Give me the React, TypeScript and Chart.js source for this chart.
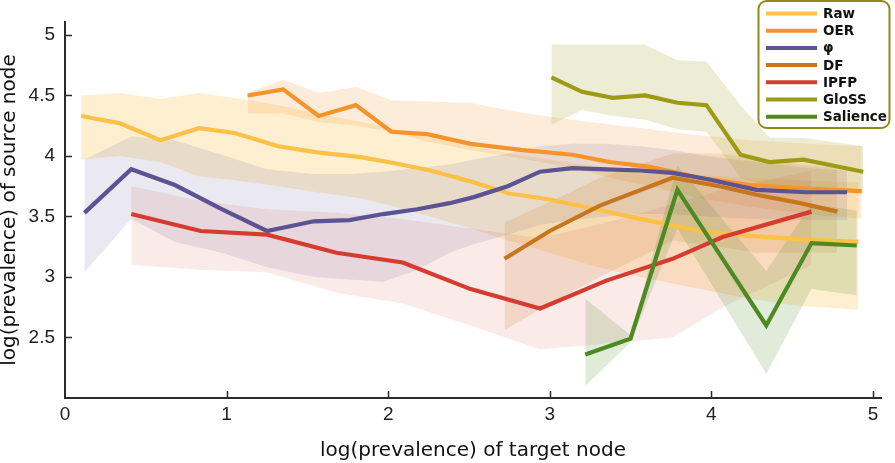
import React, { useEffect, useRef } from 'react';
import { Chart, registerables } from 'chart.js';

Chart.register(...registerables);

// ---- Data ----
const seriesNames = ['Raw', 'OER', 'φ', 'DF', 'IPFP', 'GloSS', 'Salience'];

const rawX = [0.1, 0.34, 0.59, 0.83, 1.05, 1.32, 1.56, 1.83, 2.04, 2.26, 2.51, 2.75, 3.0, 3.25, 3.56, 3.93, 4.24, 4.55, 4.91];
const rawY = [4.33, 4.27, 4.13, 4.23, 4.19, 4.08, 4.03, 3.99, 3.94, 3.88, 3.79, 3.69, 3.64, 3.57, 3.48, 3.38, 3.34, 3.31, 3.29];
const rawUpper = [4.5, 4.52, 4.47, 4.52, 4.48, 4.42, 4.35, 4.28, 4.22, 4.15, 4.08, 4.02, 3.97, 3.92, 3.88, 3.84, 3.82, 3.8, 3.78];
const rawLower = [3.97, 4.0, 3.95, 3.83, 3.8, 3.75, 3.7, 3.65, 3.58, 3.5, 3.4, 3.3, 3.2, 3.1, 3.0, 2.9, 2.82, 2.76, 2.73];

const oerX = [1.13, 1.35, 1.57, 1.8, 2.02, 2.24, 2.51, 2.82, 3.14, 3.37, 3.62, 3.93, 4.24, 4.59, 4.93];
const oerY = [4.5, 4.55, 4.33, 4.42, 4.2, 4.18, 4.1, 4.05, 4.01, 3.95, 3.91, 3.82, 3.76, 3.73, 3.71];
const oerUpper = [4.52, 4.63, 4.52, 4.57, 4.46, 4.45, 4.44, 4.36, 4.3, 4.26, 4.22, 4.17, 4.13, 4.1, 4.08];
const oerLower = [4.35, 4.35, 4.28, 4.25, 4.2, 4.12, 4.05, 3.98, 3.9, 3.82, 3.75, 3.65, 3.58, 3.52, 3.48];

const phiX = [0.12, 0.41, 0.68, 0.97, 1.25, 1.54, 1.76, 1.97, 2.18, 2.38, 2.53, 2.74, 2.94, 3.14, 3.35, 3.56, 3.76, 3.97, 4.28, 4.59, 4.84];
const phiY = [3.53, 3.89, 3.76, 3.56, 3.38, 3.46, 3.47, 3.52, 3.56, 3.61, 3.66, 3.75, 3.87, 3.9, 3.89, 3.88, 3.86, 3.81, 3.72, 3.7, 3.7];
const phiUpper = [3.97, 4.16, 4.13, 4.01, 3.89, 3.85, 3.85, 3.87, 3.9, 3.93, 3.97, 4.02, 4.08, 4.1, 4.1, 4.08, 4.05, 4.0, 3.95, 3.9, 3.88];
const phiLower = [3.04, 3.48, 3.29, 3.2, 3.08, 3.0, 2.98, 2.96, 3.06, 3.2, 3.27, 3.35, 3.43, 3.47, 3.5, 3.52, 3.52, 3.5, 3.48, 3.47, 3.47];

const dfX = [2.72, 3.0, 3.31, 3.76, 4.05, 4.28, 4.55, 4.78];
const dfY = [3.15, 3.38, 3.59, 3.82, 3.75, 3.68, 3.61, 3.54];
const dfUpper = [3.45, 3.62, 3.82, 4.02, 4.02, 3.98, 3.93, 3.9];
const dfLower = [2.56, 2.78, 3.0, 3.3, 3.25, 3.2, 3.2, 3.2];

const ipfpX = [0.41, 0.84, 1.25, 1.68, 2.09, 2.51, 2.94, 3.35, 3.76, 4.07, 4.62];
const ipfpY = [3.52, 3.38, 3.35, 3.2, 3.12, 2.9, 2.74, 2.97, 3.15, 3.33, 3.54];
const ipfpUpper = [3.75, 3.63, 3.56, 3.53, 3.48, 3.4, 3.32, 3.45, 3.6, 3.72, 3.88];
const ipfpLower = [3.1, 3.06, 3.04, 2.87, 2.78, 2.6, 2.4, 2.45, 2.5, 2.75, 3.1];

const glossX = [3.01, 3.2, 3.39, 3.59, 3.79, 3.97, 4.18, 4.36, 4.57, 4.94];
const glossY = [4.65, 4.53, 4.48, 4.5, 4.44, 4.42, 4.01, 3.95, 3.97, 3.87];
const glossUpper = [4.92, 4.92, 4.92, 4.92, 4.79, 4.78, 4.42, 4.15, 4.15, 4.08];
const glossLower = [4.26, 4.38, 4.33, 4.3, 4.22, 4.2, 3.82, 3.75, 3.75, 3.68];

const salX = [3.22, 3.5, 3.79, 4.34, 4.62, 4.9];
const salY = [2.36, 2.49, 3.72, 2.6, 3.28, 3.26];
const salUpper = [2.82, 2.52, 3.92, 3.05, 3.6, 3.55];
const salLower = [2.1, 2.46, 3.4, 2.2, 2.9, 2.85];

const xTickValues = [0, 1, 2, 3, 4, 5];
const yTickValues = [2.5, 3, 3.5, 4, 4.5, 5];

// ---- Styles ----
const lineColors = ['#fcc146', '#f6932b', '#5b5392', '#c6761f', '#d53c2f', '#9d9b14', '#4e8a23'];
const bandColors = [
  'rgba(252,193,70,0.25)',
  'rgba(246,147,43,0.18)',
  'rgba(91,83,146,0.13)',
  'rgba(198,118,31,0.16)',
  'rgba(213,60,47,0.11)',
  'rgba(157,155,20,0.18)',
  'rgba(78,138,35,0.17)',
];

const series = [
  { x: rawX, y: rawY, hi: rawUpper, lo: rawLower },
  { x: oerX, y: oerY, hi: oerUpper, lo: oerLower },
  { x: phiX, y: phiY, hi: phiUpper, lo: phiLower },
  { x: dfX, y: dfY, hi: dfUpper, lo: dfLower },
  { x: ipfpX, y: ipfpY, hi: ipfpUpper, lo: ipfpLower },
  { x: glossX, y: glossY, hi: glossUpper, lo: glossLower },
  { x: salX, y: salY, hi: salUpper, lo: salLower },
];

const FONT = '"DejaVu Sans", Verdana, sans-serif';
const AXFONT = '"Liberation Sans", Arial, sans-serif';

const tickPlugin = {
  id: 'inwardTicks',
  afterDatasetsDraw(chart: any) {
    const { ctx, scales } = chart;
    const xs = scales.x;
    const ys = scales.y;
    ctx.save();
    ctx.strokeStyle = '#2b2b2b';
    ctx.lineWidth = 1.5;
    ctx.beginPath();
    yTickValues.forEach((v) => {
      const py = Math.round(ys.getPixelForValue(v)) + 0.5;
      ctx.moveTo(xs.left, py);
      ctx.lineTo(xs.left + 7, py);
    });
    xTickValues.forEach((v) => {
      if (v === 0) return;
      const px = Math.round(xs.getPixelForValue(v)) + 0.5;
      ctx.moveTo(px, ys.bottom);
      ctx.lineTo(px, ys.bottom - 7);
    });
    ctx.stroke();
    ctx.restore();
  },
};

const legendPlugin = {
  id: 'boxLegend',
  afterDraw(chart: any) {
    const ctx = chart.ctx;
    ctx.save();
    const x0 = 758.5, y0 = 1, w = 131, h = 127, r = 8;
    ctx.beginPath();
    if (ctx.roundRect) ctx.roundRect(x0, y0, w, h, r);
    else ctx.rect(x0, y0, w, h);
    ctx.fillStyle = '#ffffff';
    ctx.fill();
    ctx.lineWidth = 2;
    ctx.strokeStyle = '#8e8b1a';
    ctx.stroke();
    seriesNames.forEach((name, i) => {
      const y = 13.5 + i * 17.2;
      ctx.beginPath();
      ctx.strokeStyle = lineColors[i];
      ctx.lineWidth = 4;
      ctx.moveTo(766, y);
      ctx.lineTo(817, y);
      ctx.stroke();
      ctx.fillStyle = '#111111';
      ctx.font = `bold 13.5px ${FONT}`;
      ctx.textBaseline = 'middle';
      ctx.textAlign = 'left';
      ctx.fillText(name, 823, y + 1);
    });
    ctx.restore();
  },
};

export default function App() {
  const ref = useRef<HTMLCanvasElement | null>(null);

  useEffect(() => {
    document.body.style.margin = '0';
    const canvas = ref.current;
    if (!canvas) return;

    const lineSets = series
      .map((s, i) => ({
        type: 'line' as const,
        label: seriesNames[i],
        data: s.x.map((x, j) => ({ x, y: s.y[j] })),
        borderColor: lineColors[i],
        backgroundColor: lineColors[i],
        borderWidth: 4.2,
        pointRadius: 0,
        fill: false,
        tension: 0,
        borderCapStyle: 'butt' as const,
        borderJoinStyle: 'miter' as const,
      }))
      .reverse();

    const bandSets: any[] = [];
    for (let i = series.length - 1; i >= 0; i--) {
      const s = series[i];
      bandSets.push({
        type: 'line',
        label: seriesNames[i] + ' upper',
        data: s.x.map((x, j) => ({ x, y: s.hi[j] })),
        borderColor: 'rgba(0,0,0,0)',
        borderWidth: 0,
        backgroundColor: bandColors[i],
        pointRadius: 0,
        tension: 0,
        fill: '+1',
      });
      bandSets.push({
        type: 'line',
        label: seriesNames[i] + ' lower',
        data: s.x.map((x, j) => ({ x, y: s.lo[j] })),
        borderColor: 'rgba(0,0,0,0)',
        borderWidth: 0,
        backgroundColor: 'rgba(0,0,0,0)',
        pointRadius: 0,
        tension: 0,
        fill: false,
      });
    }

    const chart = new Chart(canvas, {
      type: 'line',
      data: { datasets: [...lineSets, ...bandSets] as any },
      options: {
        responsive: false,
        animation: false,
        devicePixelRatio: 1,
        layout: { padding: { top: 22, right: 14, left: 0, bottom: 0 } },
        plugins: {
          legend: { display: false },
          tooltip: { enabled: false },
          filler: { drawTime: 'beforeDatasetsDraw' },
        },
        scales: {
          x: {
            type: 'linear',
            min: 0,
            max: 5.05,
            grid: { display: false, drawTicks: false },
            border: { display: true, color: '#2b2b2b', width: 2 },
            ticks: {
              font: { family: AXFONT, size: 19 },
              color: '#222222',
              padding: 5,
              maxRotation: 0,
              callback: (v: any) => String(v),
            },
            afterBuildTicks: (s: any) => {
              s.ticks = xTickValues.map((v) => ({ value: v }));
            },
            afterFit: (s: any) => {
              s.height = 65;
            },
            title: {
              display: true,
              text: 'log(prevalence) of target node',
              font: { family: FONT, size: 20, lineHeight: 1.2 },
              color: '#111111',
              padding: { top: 0, bottom: 0 },
            },
          },
          y: {
            type: 'linear',
            min: 2.0,
            max: 5.107,
            grid: { display: false, drawTicks: false },
            border: { display: true, color: '#2b2b2b', width: 2 },
            ticks: {
              font: { family: AXFONT, size: 19 },
              color: '#222222',
              padding: 10,
              callback: (v: any) => String(v),
            },
            afterBuildTicks: (s: any) => {
              s.ticks = yTickValues.map((v) => ({ value: v }));
            },
            afterFit: (s: any) => {
              s.width = 65;
            },
            title: {
              display: true,
              text: 'log(prevalence) of source node',
              font: { family: FONT, size: 20, lineHeight: 1.0 },
              color: '#111111',
              padding: { top: 0, bottom: 0 },
            },
          },
        },
      } as any,
      plugins: [tickPlugin, legendPlugin],
    });

    return () => chart.destroy();
  }, []);

  return (
    <div style={{ position: 'fixed', left: 0, top: 0, width: 895, height: 463, background: '#fff' }}>
      <canvas ref={ref} width={895} height={463} style={{ width: 895, height: 463, display: 'block' }} />
    </div>
  );
}
